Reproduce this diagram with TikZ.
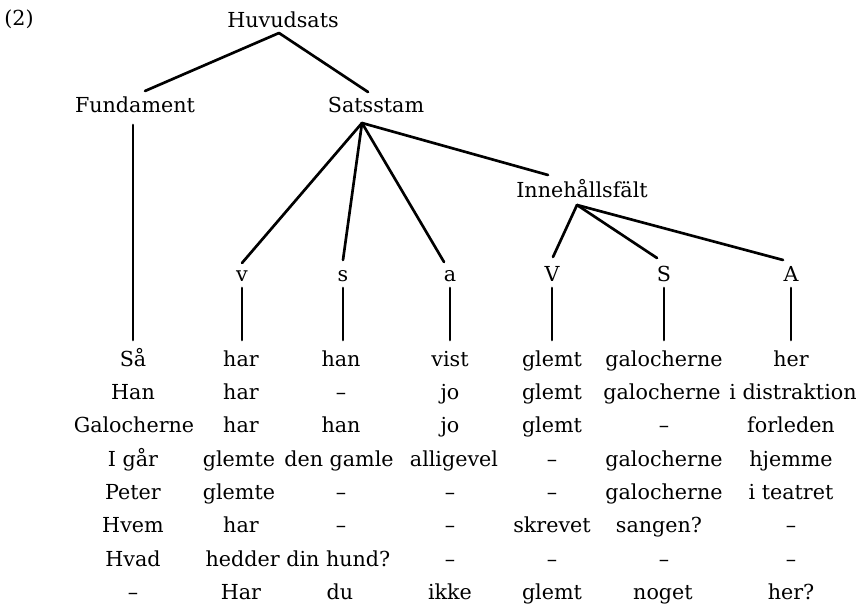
\documentclass[tikz,border=0pt]{standalone}
\usepackage{fontspec}
\setmainfont{DejaVu Serif}
\begin{document}
\begin{tikzpicture}[x=0.75pt,y=-0.75pt,
  every node/.style={inner sep=0pt, anchor=base, font=\fontsize{15.5}{19}\selectfont},
  edge/.style={line width=2pt, line cap=round}]
\useasboundingbox (0,0) rectangle (858,609);
% tree labels
\node (num)  at (19,26)   {(2)};
\node (huv)  at (283,28)  {Huvudsats};
\node (fund) at (135,113) {Fundament};
\node (sats) at (376,113) {Satsstam};
\node (inne) at (582,198) {Innehållsfält};
\node (lv) at (242,282) {v};
\node (ls) at (343,282) {s};
\node (la) at (450,282) {a};
\node (lV) at (552,282) {V};
\node (lS) at (664,282) {S};
\node (lA) at (791,282) {A};
% connector end points
\coordinate (huvB)  at (279,33);
\coordinate (fundT) at (145,91);
\coordinate (satsT) at (368,92);
\coordinate (fundB) at (133,125);
\coordinate (satsB) at (362,123);
\coordinate (vT) at (242,263);
\coordinate (sT) at (343,260);
\coordinate (aT) at (444,262);
\coordinate (inneT) at (548,175);
\coordinate (inneB) at (577,205);
\coordinate (VT) at (553,257);
\coordinate (ST) at (657,258);
\coordinate (AT) at (783,260);
\coordinate (fundE) at (133,340);
\coordinate (vB) at (242,288) ; \coordinate (vE) at (242,340);
\coordinate (sB) at (343,288) ; \coordinate (sE) at (343,340);
\coordinate (aB) at (450,288) ; \coordinate (aE) at (450,340);
\coordinate (VB) at (552,288) ; \coordinate (VE) at (552,340);
\coordinate (SB) at (664,288) ; \coordinate (SE) at (664,340);
\coordinate (AB) at (791,288) ; \coordinate (AE) at (791,340);
% connectors
\draw[edge] (huvB) -- (fundT);
\draw[edge] (huvB) -- (satsT);
\draw[edge] (fundB) -- (fundE);
\draw[edge] (satsB) -- (vT);
\draw[edge] (satsB) -- (sT);
\draw[edge] (satsB) -- (aT);
\draw[edge] (satsB) -- (inneT);
\draw[edge] (inneB) -- (VT);
\draw[edge] (inneB) -- (ST);
\draw[edge] (inneB) -- (AT);
\draw[edge] (vB) -- (vE);
\draw[edge] (sB) -- (sE);
\draw[edge] (aB) -- (aE);
\draw[edge] (VB) -- (VE);
\draw[edge] (SB) -- (SE);
\draw[edge] (AB) -- (AE);
% rows
\node (r1a) at (133,367) {Så};
\node (r1b) at (241,367) {har};
\node (r1c) at (341,367) {han};
\node (r1d) at (450,367) {vist};
\node (r1e) at (552,367) {glemt};
\node (r1f) at (664,367) {galocherne};
\node (r1g) at (791,367) {her};
\node (r2a) at (133,400) {Han};
\node (r2b) at (241,400) {har};
\node (r2c) at (341,400) {–};
\node (r2d) at (450,400) {jo};
\node (r2e) at (552,400) {glemt};
\node (r2f) at (662,400) {galocherne};
\node (r2g) at (793,400) {i distraktion};
\node (r3a) at (134,433) {Galocherne};
\node (r3b) at (241,433) {har};
\node (r3c) at (341,433) {han};
\node (r3d) at (450,433) {jo};
\node (r3e) at (552,433) {glemt};
\node (r3f) at (664,433) {–};
\node (r3g) at (791,433) {forleden};
\node (r4a) at (133,467) {I går};
\node (r4b) at (239,467) {glemte};
\node (r4c) at (339,467) {den gamle};
\node (r4d) at (454,467) {alligevel};
\node (r4e) at (552,467) {–};
\node (r4f) at (664,467) {galocherne};
\node (r4g) at (791,467) {hjemme};
\node (r5a) at (133,500) {Peter};
\node (r5b) at (239,500) {glemte};
\node (r5c) at (341,500) {–};
\node (r5d) at (450,500) {–};
\node (r5e) at (552,500) {–};
\node (r5f) at (664,500) {galocherne};
\node (r5g) at (791,500) {i teatret};
\node (r6a) at (133,533) {Hvem};
\node (r6b) at (241,533) {har};
\node (r6c) at (341,533) {–};
\node (r6d) at (450,533) {–};
\node (r6e) at (552,533) {skrevet};
\node (r6f) at (659,533) {sangen?};
\node (r6g) at (791,533) {–};
\node (r7a) at (133,567) {Hvad};
\node (r7b) at (298,567) {hedder din hund?};
\node (r7d) at (450,567) {–};
\node (r7e) at (552,567) {–};
\node (r7f) at (664,567) {–};
\node (r7g) at (791,567) {–};
\node (r8a) at (133,600) {–};
\node (r8b) at (241,600) {Har};
\node (r8c) at (340,600) {du};
\node (r8d) at (450,600) {ikke};
\node (r8e) at (552,600) {glemt};
\node (r8f) at (663,600) {noget};
\node (r8g) at (791,600) {her?};
\end{tikzpicture}
\end{document}
